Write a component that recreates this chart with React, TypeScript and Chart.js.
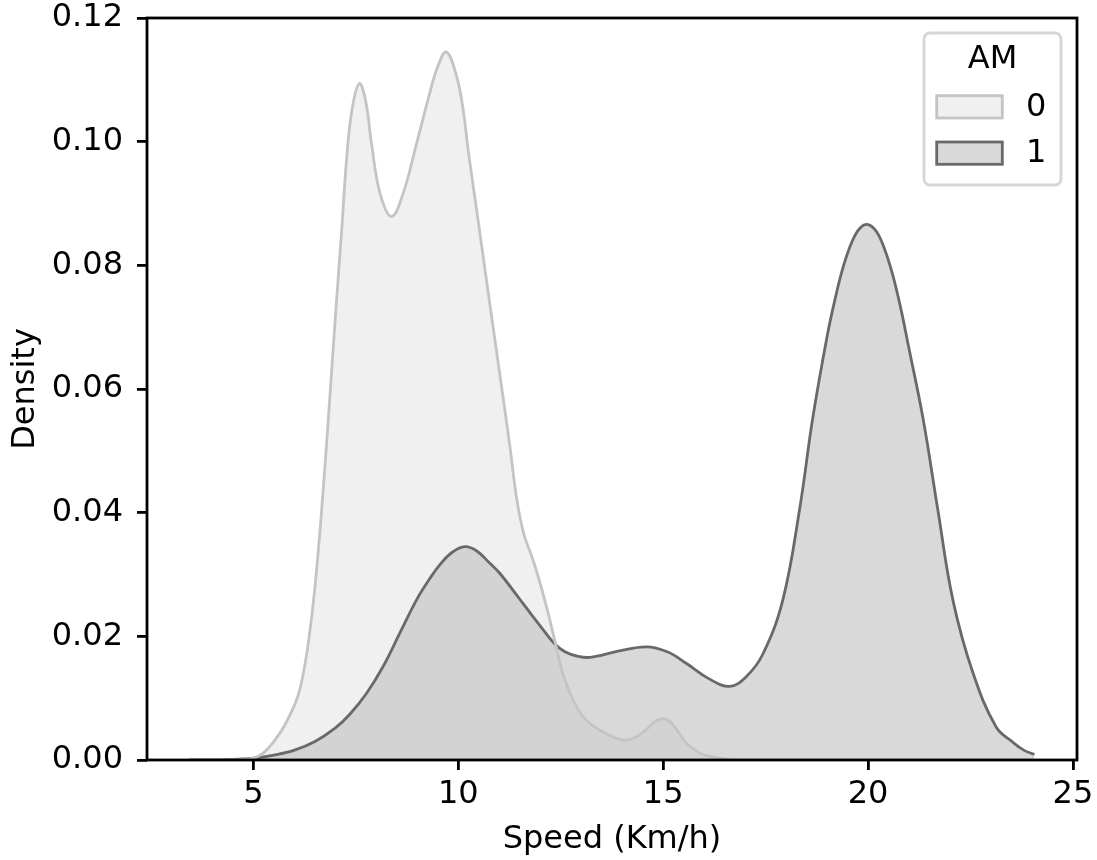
import React, { useEffect, useRef } from "react";
import { Chart, registerables } from "chart.js";

Chart.register(...registerables);

// ---- data ----
const am0X = [3.43, 4.5, 5.0, 5.25, 5.52, 5.75, 6.05, 6.2, 6.35, 6.5, 6.67, 6.84, 7.01, 7.15, 7.27, 7.4, 7.58, 7.74, 7.88, 8.09, 8.37, 8.65, 8.98, 9.3, 9.5, 9.71, 9.96, 10.12, 10.24, 10.5, 10.75, 11.0, 11.25, 11.43, 11.6, 11.8, 12.0, 12.2, 12.35, 12.55, 12.8, 13.0, 13.21, 13.6, 14.02, 14.3, 14.6, 14.8, 15.0, 15.2, 15.4, 15.57, 15.9, 16.21, 16.6, 17.0, 17.5];
const am0Y = [0, 0, 0.0003, 0.0012, 0.0032, 0.0055, 0.0097, 0.0135, 0.0195, 0.028, 0.041, 0.0565, 0.0728, 0.0855, 0.097, 0.105, 0.1094, 0.1065, 0.0997, 0.0916, 0.0879, 0.0916, 0.0997, 0.1078, 0.1122, 0.1145, 0.1105, 0.105, 0.0986, 0.0864, 0.0746, 0.0629, 0.0511, 0.042, 0.0365, 0.0328, 0.0285, 0.0235, 0.0194, 0.014, 0.0097, 0.0074, 0.0059, 0.0043, 0.0032, 0.0036, 0.005, 0.0062, 0.0067, 0.006, 0.0042, 0.0027, 0.0011, 0.0005, 0.0001, 0, 0];

const am1X = [3.43, 4.5, 5.0, 5.5, 6.0, 6.5, 7.0, 7.35, 7.76, 8.17, 8.57, 8.98, 9.3, 9.55, 9.85, 10.16, 10.45, 10.77, 11.01, 11.5, 11.82, 12.1, 12.35, 12.6, 12.9, 13.21, 13.9, 14.59, 15.1, 15.57, 16.1, 16.62, 17.03, 17.43, 17.92, 18.33, 18.65, 19.0, 19.2, 19.4, 19.6, 19.8, 20.0, 20.2, 20.4, 20.6, 20.8, 21.0, 21.34, 21.7, 22.07, 22.56, 23.13, 23.53, 23.8, 24.06];
const am1Y = [0, 0.0001, 0.0003, 0.0008, 0.0016, 0.003, 0.0052, 0.0074, 0.0108, 0.0152, 0.0205, 0.0259, 0.0293, 0.0316, 0.0336, 0.0345, 0.0338, 0.0318, 0.0302, 0.026, 0.0232, 0.0208, 0.0188, 0.0175, 0.0168, 0.0166, 0.0176, 0.0183, 0.0175, 0.0156, 0.0132, 0.0119, 0.0135, 0.0171, 0.0259, 0.0406, 0.0553, 0.0685, 0.0747, 0.0799, 0.0837, 0.086, 0.0866, 0.0855, 0.0827, 0.0785, 0.073, 0.0665, 0.0553, 0.0406, 0.0259, 0.0141, 0.0053, 0.0029, 0.0016, 0.0009];

const seriesLabels = ["0", "1"];
const legendTitle = "AM";
const xTicks = [5, 10, 15, 20, 25];
const yTicks = [0, 0.02, 0.04, 0.06, 0.08, 0.1, 0.12];
const xTitle = "Speed (Km/h)";
const yTitle = "Density";

// ---- styles ----
const FONT = '"DejaVu Sans", sans-serif';
const FS = 32;
const lineColors = ["rgb(196,196,196)", "rgb(105,105,105)"];
const fillColors = ["rgba(196,196,196,0.25)", "rgba(105,105,105,0.25)"];
const LW = 2.8;

const framePlugin = {
  id: "frame",
  afterDraw(chart: any) {
    const { ctx, chartArea: a } = chart;
    ctx.save();
    ctx.strokeStyle = "#000";
    ctx.lineWidth = LW;
    ctx.strokeRect(a.left, a.top, a.right - a.left, a.bottom - a.top);
    ctx.restore();
  },
};

const legendPlugin = {
  id: "customLegend",
  afterDraw(chart: any) {
    const { ctx, chartArea: a } = chart;
    const w = 137;
    const h = 152;
    const x0 = a.right - 16 - w;
    const y0 = a.top + 15;
    ctx.save();
    const r = 6;
    ctx.beginPath();
    ctx.moveTo(x0 + r, y0);
    ctx.lineTo(x0 + w - r, y0);
    ctx.arcTo(x0 + w, y0, x0 + w, y0 + r, r);
    ctx.lineTo(x0 + w, y0 + h - r);
    ctx.arcTo(x0 + w, y0 + h, x0 + w - r, y0 + h, r);
    ctx.lineTo(x0 + r, y0 + h);
    ctx.arcTo(x0, y0 + h, x0, y0 + h - r, r);
    ctx.lineTo(x0, y0 + r);
    ctx.arcTo(x0, y0, x0 + r, y0, r);
    ctx.closePath();
    ctx.fillStyle = "rgba(255,255,255,0.8)";
    ctx.fill();
    ctx.strokeStyle = "#d6d6d6";
    ctx.lineWidth = LW;
    ctx.stroke();
    ctx.fillStyle = "#000";
    ctx.font = `${FS}px ${FONT}`;
    ctx.textAlign = "center";
    ctx.textBaseline = "middle";
    ctx.fillText(legendTitle, x0 + w / 2, y0 + 27);
    ctx.textAlign = "left";
    seriesLabels.forEach((lab, i) => {
      const py = y0 + 62.7 + i * 46.3;
      ctx.fillStyle = "#fff";
      ctx.fillRect(x0 + 12.7, py, 65.6, 22.3);
      ctx.fillStyle = fillColors[i];
      ctx.fillRect(x0 + 12.7, py, 65.6, 22.3);
      ctx.strokeStyle = lineColors[i];
      ctx.lineWidth = LW;
      ctx.strokeRect(x0 + 12.7, py, 65.6, 22.3);
      ctx.fillStyle = "#000";
      ctx.fillText(lab, x0 + 102, py + 11.5);
    });
    ctx.restore();
  },
};

export default function App() {
  const ref = useRef<HTMLCanvasElement>(null);
  useEffect(() => {
    const canvas = ref.current;
    if (!canvas) return;
    const mk = (xs: number[], ys: number[]) => xs.map((x, i) => ({ x, y: ys[i] }));
    const common = {
      fill: "origin",
      borderWidth: LW,
      pointRadius: 0,
      tension: 0.4,
      cubicInterpolationMode: "default",
    };
    const chart = new Chart(canvas, {
      type: "line",
      data: {
        datasets: [
          {
            ...common,
            label: seriesLabels[0],
            data: mk(am0X, am0Y),
            borderColor: lineColors[0],
            backgroundColor: fillColors[0],
          } as any,
          {
            ...common,
            label: seriesLabels[1],
            data: mk(am1X, am1Y),
            borderColor: lineColors[1],
            backgroundColor: fillColors[1],
          } as any,
        ],
      },
      options: {
        responsive: false,
        animation: false,
        devicePixelRatio: 1,
        layout: { padding: { left: 0, top: 18, right: 20, bottom: 0 } },
        plugins: {
          legend: { display: false },
          tooltip: { enabled: false },
          filler: { drawTime: "beforeDatasetsDraw" },
        } as any,
        scales: {
          x: {
            type: "linear",
            min: 2.4,
            max: 25.1,
            afterBuildTicks: (s: any) => {
              s.ticks = xTicks.map((v) => ({ value: v }));
            },
            afterFit: (s: any) => {
              s.height = 100;
              s.paddingLeft = 0;
              s.paddingRight = 0;
            },
            ticks: {
              font: { family: FONT, size: FS, lineHeight: 1 },
              color: "#000",
              padding: 9,
              maxRotation: 0,
              autoSkip: false,
              callback: (v: any) => String(v),
            },
            grid: {
              drawOnChartArea: false,
              drawTicks: true,
              tickLength: 10,
              lineWidth: LW,
              color: "#000",
            },
            border: { display: false },
            title: {
              display: true,
              text: xTitle,
              color: "#000",
              font: { family: FONT, size: FS, lineHeight: 1.2 },
              padding: { top: 0, bottom: 1 },
            },
          },
          y: {
            type: "linear",
            min: 0,
            max: 0.12,
            afterBuildTicks: (s: any) => {
              s.ticks = yTicks.map((v) => ({ value: v }));
            },
            afterFit: (s: any) => {
              s.width = 147;
              s.paddingTop = 0;
              s.paddingBottom = 0;
            },
            ticks: {
              font: { family: FONT, size: FS, lineHeight: 1 },
              color: "#000",
              padding: 14,
              autoSkip: false,
              callback: (v: any) => Number(v).toFixed(2),
            },
            grid: {
              drawOnChartArea: false,
              drawTicks: true,
              tickLength: 10,
              lineWidth: LW,
              color: "#000",
            },
            border: { display: false },
            title: {
              display: true,
              text: yTitle,
              color: "#000",
              font: { family: FONT, size: FS, lineHeight: 1.2 },
              padding: { top: 6, bottom: 0 },
            },
          },
        },
      },
      plugins: [framePlugin, legendPlugin],
    });
    return () => chart.destroy();
  }, []);

  return (
    <div style={{ position: "absolute", left: 0, top: 0, width: 1097, height: 860, background: "#fff" }}>
      <canvas ref={ref} width={1097} height={860} style={{ width: 1097, height: 860, display: "block" }} />
    </div>
  );
}
